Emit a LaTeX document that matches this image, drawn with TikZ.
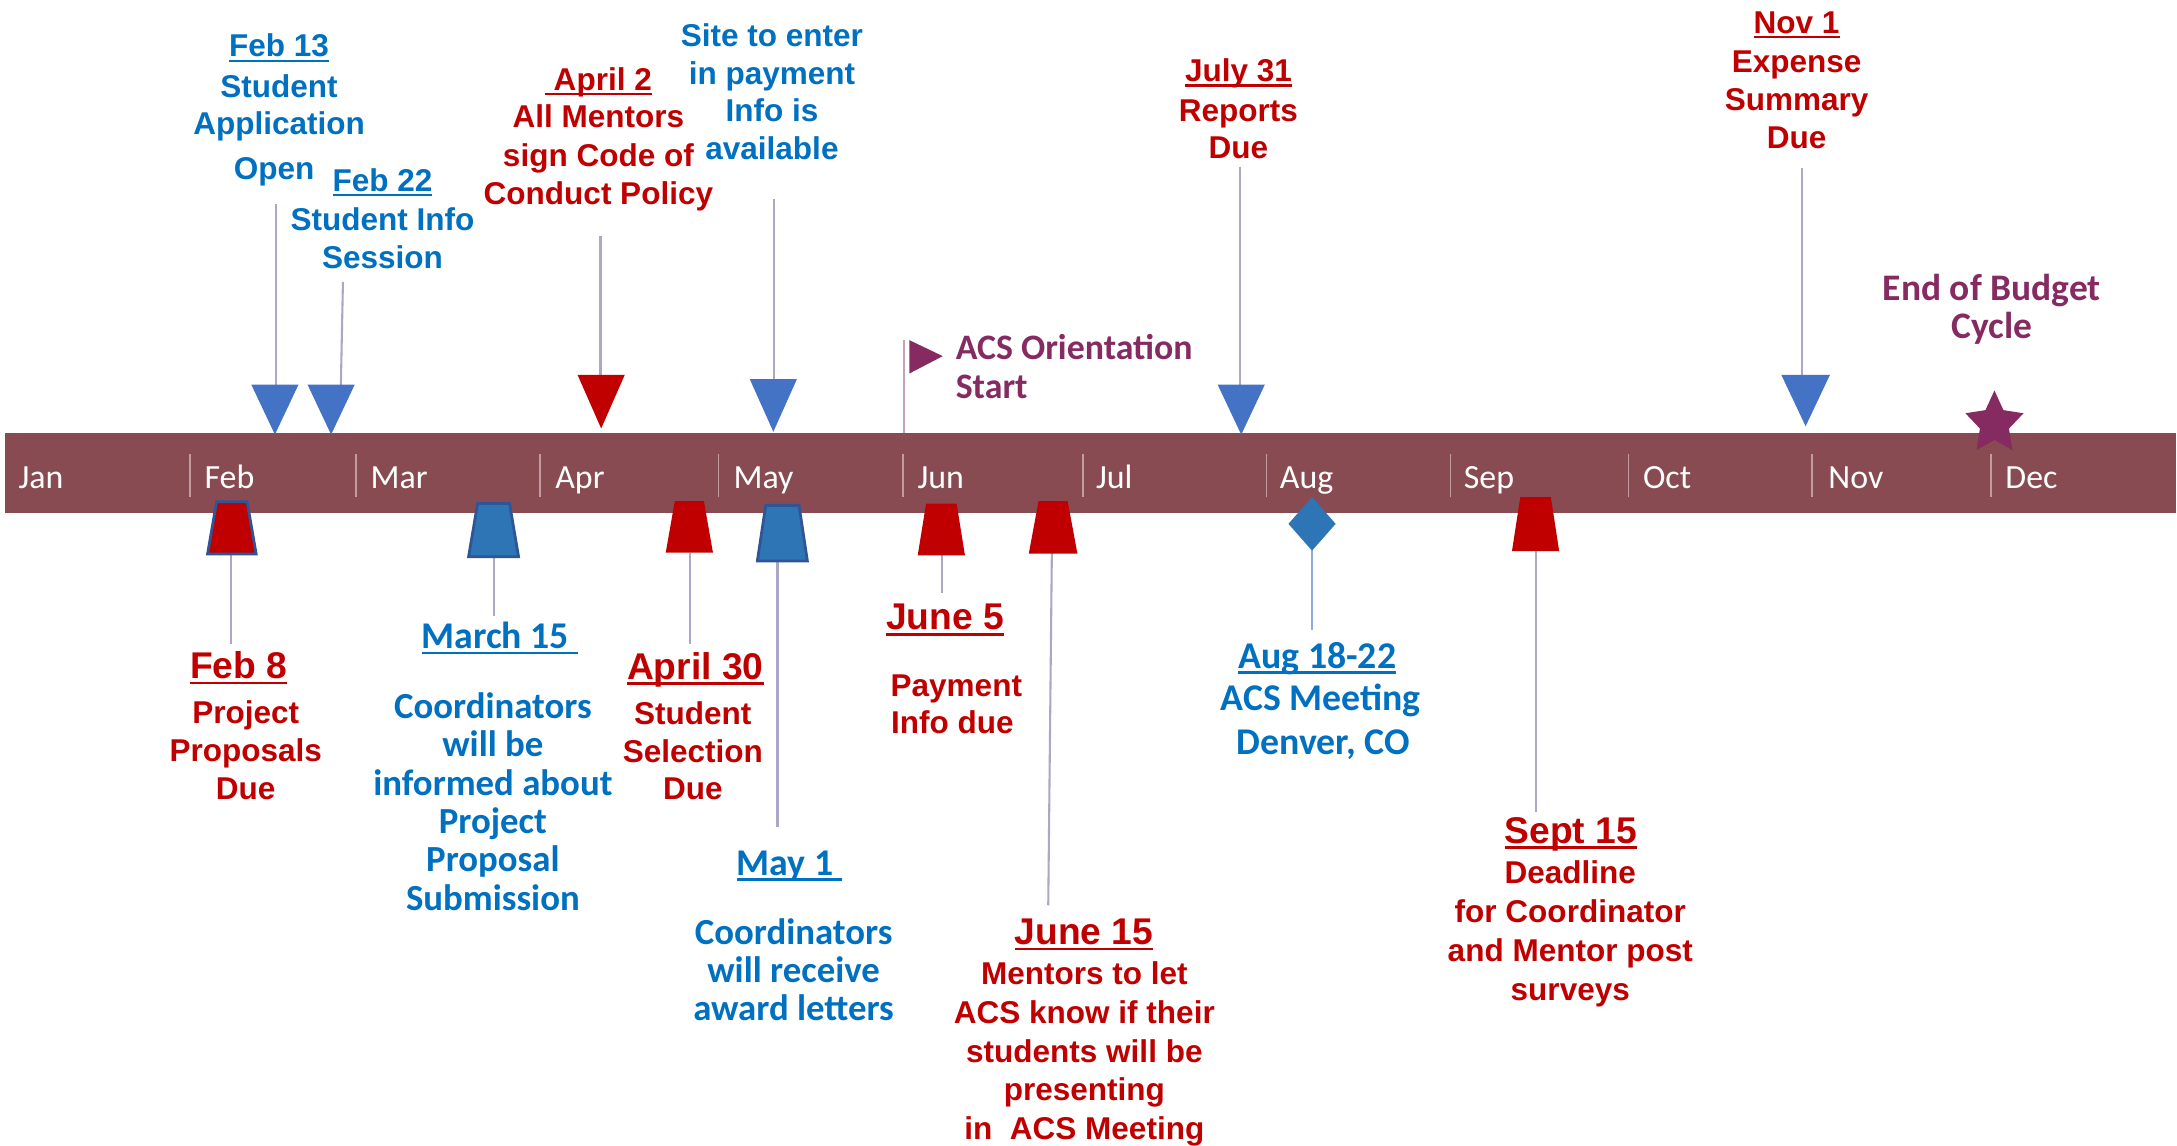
\documentclass[tikz,border=0pt]{standalone}
\usepackage{fontspec}
\setmainfont{Liberation Sans}
\newfontfamily\carlito{Carlito}
\usetikzlibrary{shapes.geometric}
\definecolor{barc}{HTML}{894B52}
\definecolor{sepc}{HTML}{C39CA1}
\definecolor{cred}{HTML}{C00000}
\definecolor{cblue}{HTML}{0070C0}
\definecolor{tblue}{HTML}{4472C4}
\definecolor{mblue}{HTML}{2E75B6}
\definecolor{oblue}{HTML}{2F5597}
\definecolor{cpurp}{HTML}{862A62}
\definecolor{linec}{HTML}{ABA7C6}
\definecolor{polec}{HTML}{C7A1BA}
\definecolor{augl}{HTML}{8FAADC}
\newcommand\ulx[1]{\sbox0{#1}\rlap{\rule[-0.16em]{\wd0}{0.075em}}\usebox0}
\newcommand\tblock[6]{\foreach \t [count=\i] in {#6} {\node[#5] (#1-\i) at (#2,{#3+(\i-1)*#4}) {\t};}}
\newcommand\dtri[6]{\fill[#6] (#2-#5,#3) -- (#2+#5,#3) -- (#2,#4) -- cycle; \coordinate (#1) at (#2,#3);}
\tikzset{
 ar/.style={font=\fontsize{11.35}{13}\selectfont\bfseries, inner sep=0pt, anchor=base},
 arh/.style={font=\fontsize{13.4}{15}\selectfont\bfseries, inner sep=0pt, anchor=base},
 cb/.style={font=\carlito\fontsize{13.25}{15}\selectfont\bfseries, inner sep=0pt, anchor=base},
 cbh/.style={font=\carlito\fontsize{13.6}{15}\selectfont\bfseries, inner sep=0pt, anchor=base},
 mon/.style={font=\carlito\fontsize{12.2}{14}\selectfont, text=white, inner sep=0pt, anchor=base west},
 pt/.style={font=\carlito\fontsize{12.9}{15}\selectfont\bfseries, text=cpurp, inner sep=0pt},
 rtx/.style={text=cred},
 btx/.style={text=cblue},
 conn/.style={draw=linec, line width=0.75pt},
 trapr/.style={fill=cred},
 trapb/.style={fill=mblue, draw=oblue, line width=1pt},
 trapro/.style={fill=cred, draw=oblue, line width=1pt},
}
\begin{document}
\begin{tikzpicture}[x=0.5pt,y=-0.5pt]
\useasboundingbox (0,0) rectangle (1568,825.4);
\fill[white] (0,0) rectangle (1568,825.4);
% bar
\fill[barc] (3.5,312) rectangle (1567,369.5);
\foreach \sx in {137,256.5,389,517.4,650.3,780,912.3,1044.7,1173,1305,1434}
  \draw[sepc, line width=0.6pt] (\sx,327) -- (\sx,358);
\foreach \m/\mx [count=\i] in {Jan/13,Feb/147,Mar/266.5,Apr/399.6,May/528,Jun/660.5,Jul/789,Aug/921.5,Sep/1054,Oct/1183,Nov/1316.5,Dec/1444}
  \node[mon] (m-\i) at (\mx,351.8) {\m};

% ---------- top text blocks ----------
\node[ar,btx] (a-h) at (201,41) {\ulx{Feb 13}};
\tblock{a}{201}{70.1}{26.9}{ar,btx}{Student,Application}
\node[ar,btx] (a-3) at (197.5,129.4) {Open};

\node[ar,btx] (b-h) at (275.5,137.8) {\ulx{Feb 22}};
\tblock{b}{275.5}{165.9}{27.2}{ar,btx}{Student Info,Session}

\node[ar,rtx] (c-h) at (431,65) {\ulx{\ April 2}};
\tblock{c}{431}{92.1}{27.65}{ar,rtx}{All Mentors,sign Code of,Conduct Policy}

\tblock{d}{556}{33.3}{27.23}{ar,btx}{Site to enter,in payment,Info is,available}

\node[ar,rtx] (e-h) at (892,58.8) {\ulx{July 31}};
\tblock{e}{892}{87.4}{26.4}{ar,rtx}{Reports,Due}

\node[ar,rtx] (f-h) at (1294,24) {\ulx{Nov 1}};
\tblock{f}{1294}{52.5}{27.3}{ar,rtx}{Expense,Summary,Due}

\node[pt,anchor=base west] (g-1) at (688,259.2) {ACS Orientation};
\node[pt,anchor=base west] (g-2) at (688,287.2) {Start};

\node[pt,anchor=base,font=\carlito\fontsize{13.5}{15}\selectfont\bfseries] (h-1) at (1434.5,216.4) {End of Budget};
\node[pt,anchor=base,font=\carlito\fontsize{13.5}{15}\selectfont\bfseries] (h-2) at (1434.5,243.6) {Cycle};

% ---------- bottom text blocks ----------
\node[arh,rtx] (i-h) at (172,488.7) {\ulx{Feb 8}};
\tblock{i}{177}{521.1}{27.35}{ar,rtx}{Project,Proposals,Due}

\node[cbh,btx] (j-h) at (359.8,467) {\ulx{March 15\ }};
\tblock{j}{355}{517.5}{27.6}{cb,btx}{Coordinators,will be,informed about,Project,Proposal,Submission}

\node[arh,rtx] (k-h) at (500.8,489.2) {\ulx{April 30}};
\tblock{k}{499}{522}{26.95}{ar,rtx}{Student,Selection,Due}

\node[cbh,btx] (l-h) at (568.5,630.4) {\ulx{May 1\ }};
\tblock{l}{571.6}{680.5}{27.35}{cb,btx}{Coordinators,will receive,award letters}

\node[arh,rtx] (n5-h) at (680.6,453.5) {\ulx{June 5}};
\node[ar,rtx] (n5-1) at (688.8,501.6) {Payment};
\node[ar,rtx] (n5-2) at (686,528.3) {Info due};

\node[arh,rtx] (o-h) at (780.7,680.2) {\ulx{June 15}};
\tblock{o}{781}{709.1}{27.9}{ar,rtx}{Mentors to let,ACS know if their,students will be,presenting,in\ \ ACS Meeting}

\node[cbh,btx] (p-h) at (948.8,481.2) {\ulx{Aug 18-22}};
\node[cbh,btx] (p-1) at (951.3,511.4) {ACS Meeting};
\node[cbh,btx] (p-2) at (953,543.7) {Denver, CO};

\node[arh,rtx] (q-h) at (1131.4,607.3) {\ulx{Sept 15}};
\tblock{q}{1131}{636}{28.2}{ar,rtx}{Deadline,for Coordinator,and Mentor post,surveys}

% ---------- connectors (top) ----------
\coordinate (a-c) at (199,147);
\coordinate (b-c) at (247,203);
\coordinate (c-c) at (432.5,170);
\coordinate (d-c) at (557.6,143);
\coordinate (e-c) at (893,120);
\coordinate (f-c) at (1298,121);
\coordinate (a-t) at (199,278);
\coordinate (b-t) at (245.5,278);
\coordinate (c-t) at (432.5,271);
\coordinate (d-t) at (557.6,274);
\coordinate (e-t) at (893,278);
\coordinate (f-t) at (1298,271);
\foreach \n in {a,b,c,d,e,f} \draw[conn] (\n-c) -- (\n-t);

% ---------- connectors (bottom) ----------
\coordinate (i-t) at (166.5,398); \coordinate (i-c) at (166.5,464);
\coordinate (j-t) at (356,400); \coordinate (j-c) at (356,444);
\coordinate (k-t) at (497,398); \coordinate (k-c) at (497,464);
\coordinate (l-t) at (560,403); \coordinate (l-c) at (560,595.6);
\coordinate (n5-t) at (678.6,399); \coordinate (n5-c) at (678.6,427);
\coordinate (o-t) at (757.6,398); \coordinate (o-c) at (755,652);
\coordinate (q-t) at (1106.6,396); \coordinate (q-c) at (1106.6,585);
\foreach \n in {i,j,k,l,n5,o,q} \draw[conn] (\n-t) -- (\n-c);
\coordinate (p-t) at (945,396); \coordinate (p-c) at (945,453.5);
\draw[draw=augl, line width=0.75pt] (p-t) -- (p-c);

% ---------- top triangles ----------
\dtri{a-m}{198}{277}{313}{17}{tblue}
\dtri{b-m}{238.5}{277}{313}{17}{tblue}
\dtri{c-m}{433}{270}{308.6}{17}{cred}
\dtri{d-m}{557}{273}{311}{17}{tblue}
\dtri{e-m}{894}{277}{313}{17}{tblue}
\dtri{f-m}{1300.5}{270}{307}{17.5}{tblue}

% ---------- flag and star ----------
\coordinate (flag-top) at (651,245);
\coordinate (flag-bot) at (651,312);
\draw[polec, line width=0.7pt] (flag-top) -- (flag-bot);
\fill[cpurp] (655,245) -- (655,269) -- (679,256.5) -- cycle;
\node[star, star points=5, star point ratio=2.0, fill=cpurp, inner sep=0pt, minimum size=22pt, yscale=1.08] (star) at (1436.5,305) {};

% ---------- bottom trapezoids ----------
\draw[trapro] (156,361.4) -- (178,361.4) -- (184.5,399) -- (149.5,399) -- cycle;
\draw[trapb] (344,362.6) -- (367,362.6) -- (373.5,401) -- (337.5,401) -- cycle;
\fill[trapr] (486,361) -- (507,361) -- (513.5,398) -- (479.5,398) -- cycle;
\draw[trapb] (551.5,364) -- (575.5,364) -- (581.5,404) -- (545.5,404) -- cycle;
\fill[trapr] (667,362.7) -- (689,362.7) -- (695,400) -- (661,400) -- cycle;
\fill[trapr] (748,361) -- (769,361) -- (776,398.7) -- (741,398.7) -- cycle;
\fill[trapr] (1095,358) -- (1117,358) -- (1123,397) -- (1089,397) -- cycle;
% diamond
\fill[mblue] (945,358) -- (962,377.3) -- (945,396.6) -- (928,377.3) -- cycle;
\end{tikzpicture}
\end{document}
